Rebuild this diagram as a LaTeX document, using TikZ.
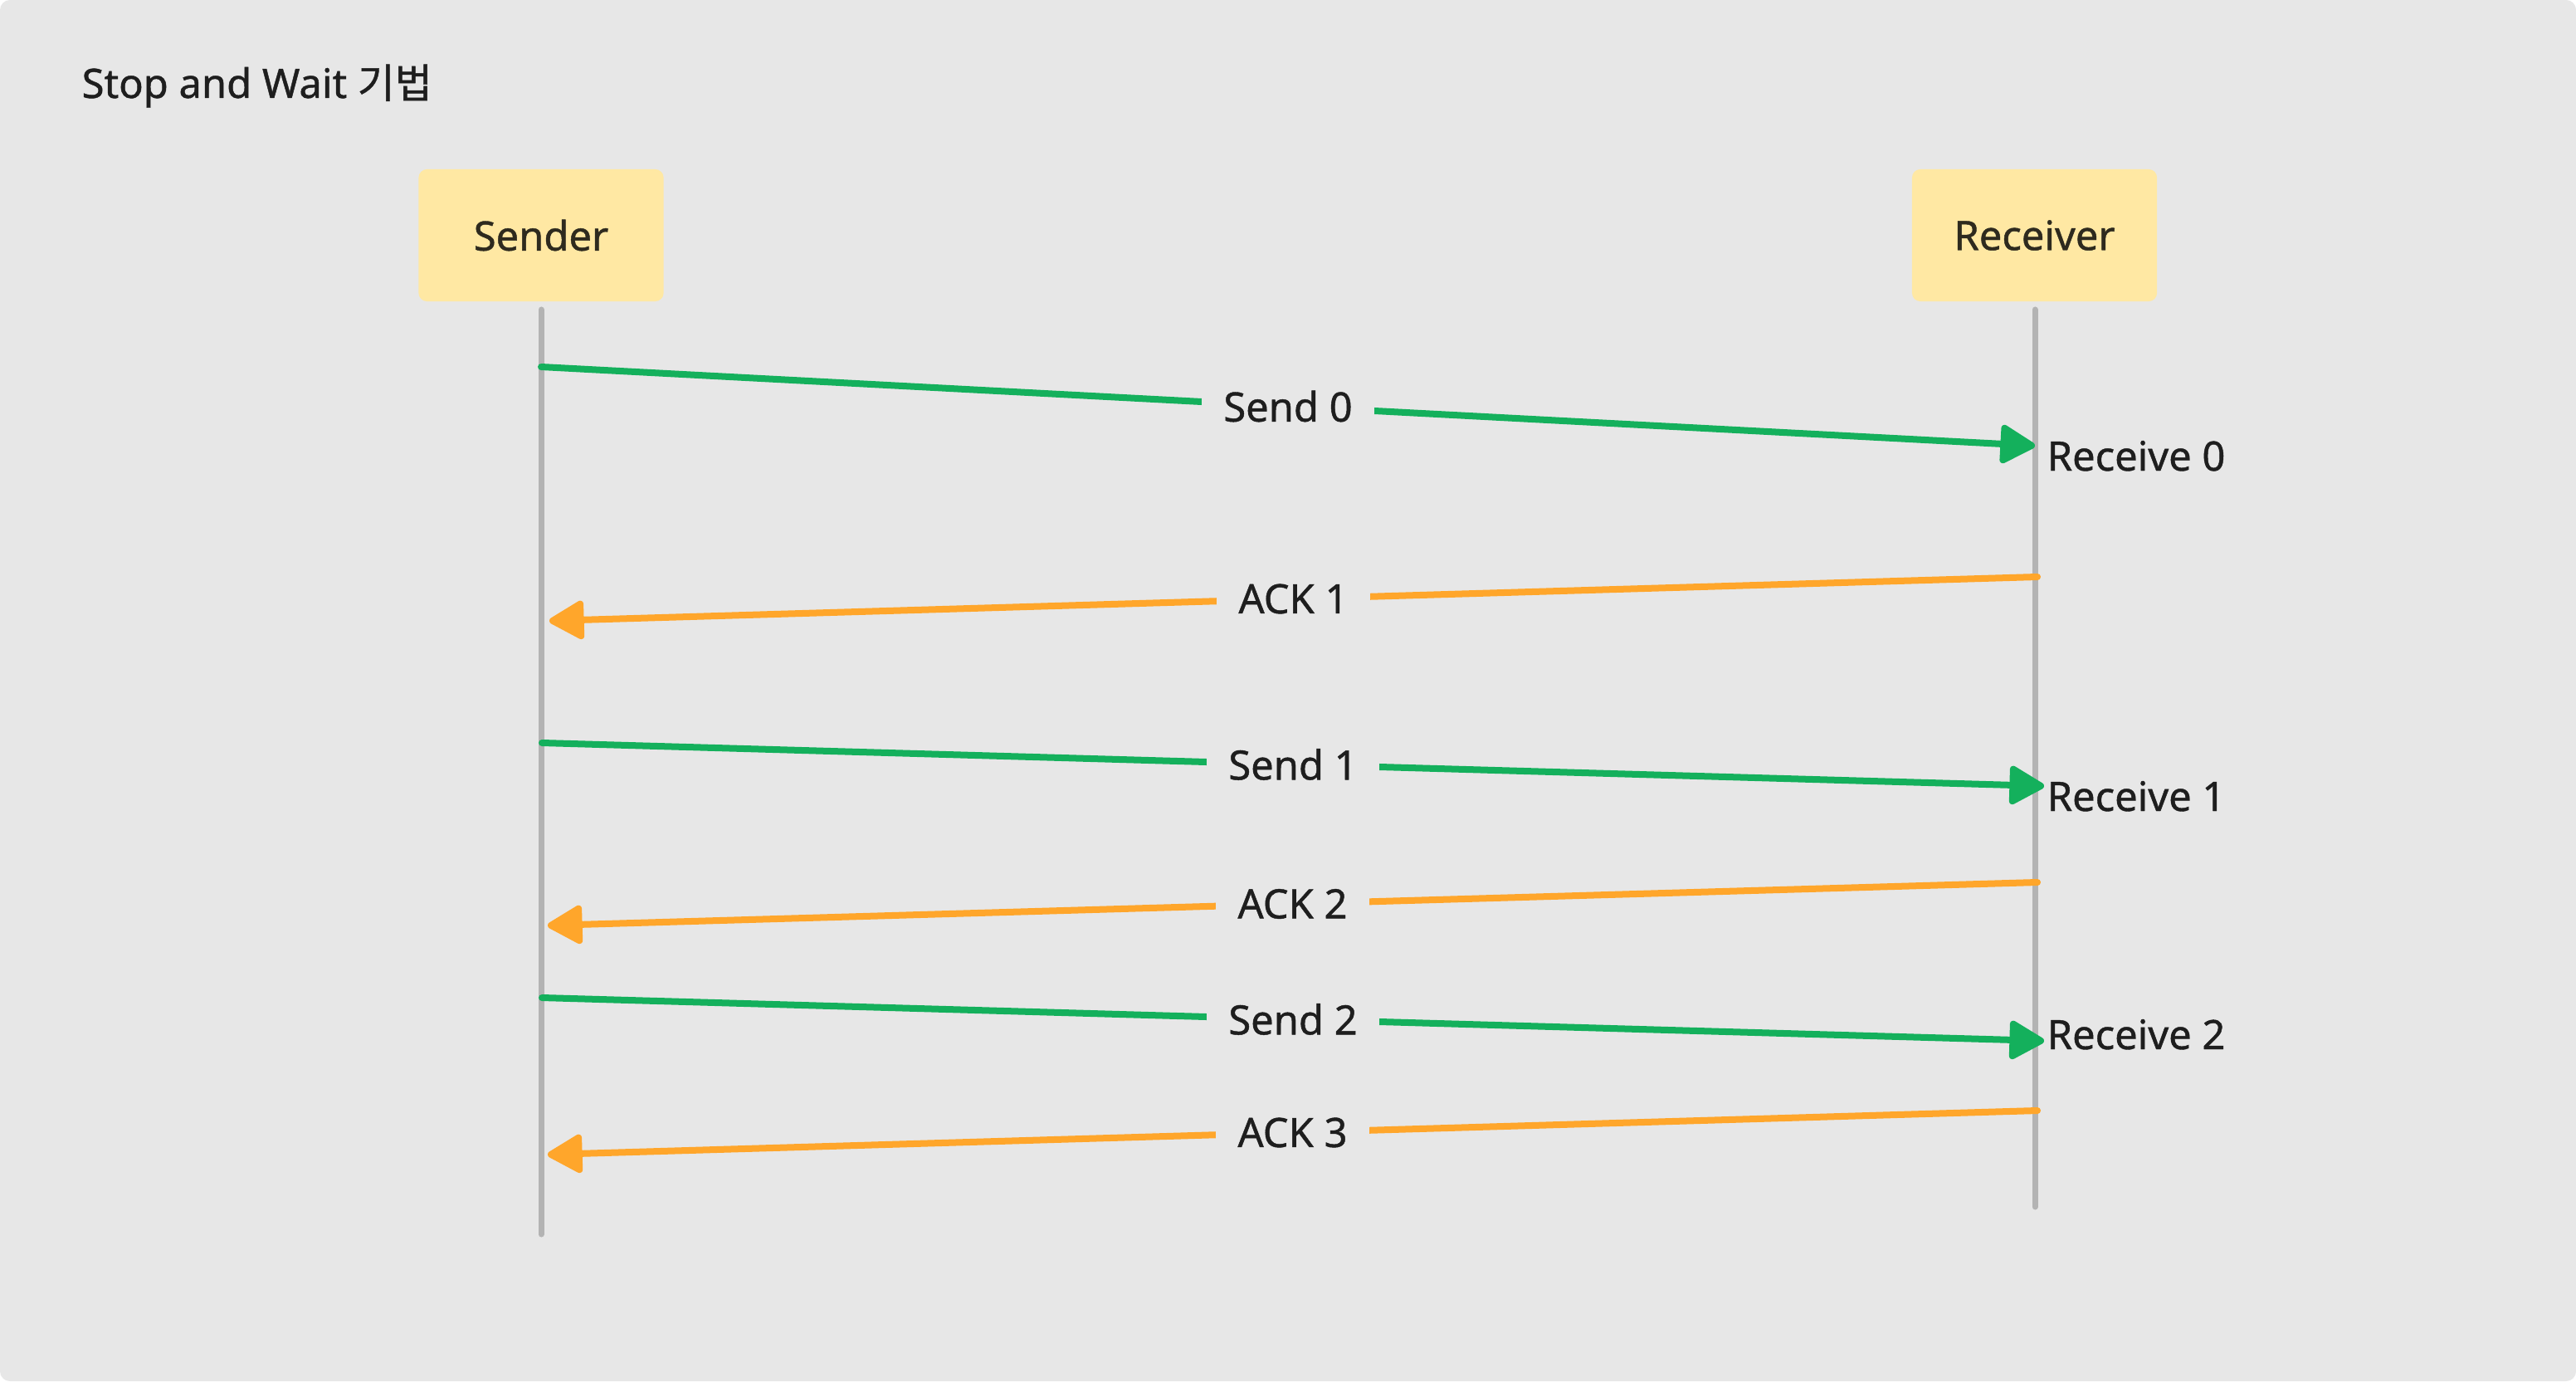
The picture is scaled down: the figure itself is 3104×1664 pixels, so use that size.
\documentclass[tikz,border=0pt]{standalone}
\usepackage{fontspec}
\setmainfont{Noto Sans}[FakeBold=0.9]
\newfontfamily\krfont{Noto Sans CJK KR}[FakeBold=0.9]
\usetikzlibrary{arrows.meta}
\definecolor{bg}{HTML}{E7E7E7}
\definecolor{boxfill}{HTML}{FFE8A3}
\definecolor{lifegray}{HTML}{B3B3B3}
\definecolor{sendgreen}{HTML}{14B05C}
\definecolor{ackorange}{HTML}{FFA62B}
\definecolor{txt}{HTML}{1E1E1E}
\definecolor{boxtxt}{HTML}{2E2A1E}
\begin{document}
\begin{tikzpicture}[x=0.01cm,y=-0.01cm,
  font=\fontsize{13.9pt}{16pt}\selectfont,
  actor/.style={fill=boxfill, rounded corners=0.1cm, minimum width=2.95cm, minimum height=1.59cm, text=boxtxt, inner sep=0pt},
  lifeline/.style={draw=lifegray, line width=0.07cm, line cap=round},
  sendmsg/.style={draw=sendgreen, line width=0.08cm, line cap=round, -{Triangle[length=0.46cm,width=0.5cm,round]}},
  ackmsg/.style={draw=ackorange, line width=0.08cm, line cap=round, -{Triangle[length=0.46cm,width=0.5cm,round]}},
  msglabel/.style={fill=bg, text=txt, inner xsep=0.26cm, inner ysep=0.06cm},
  rcvlabel/.style={anchor=base west, text=txt, inner sep=0pt}]
\useasboundingbox (0,0) rectangle (3104,1664);
\fill[white] (0,0) rectangle (3104,1664);
\fill[bg, rounded corners=0.12cm] (0,0) rectangle (3104,1664);
\node[anchor=base west, inner sep=0pt, text=txt] (title) at (98,118) {Stop and Wait {\krfont 기법}};
\node[actor] (sender) at (652,283.5) {Sender};
\node[actor] (receiver) at (2451.5,283.5) {Receiver};
\coordinate (sTop) at (652,373);
\coordinate (sBot) at (652,1487);
\coordinate (rTop) at (2452,373);
\coordinate (rBot) at (2452,1454);
\draw[lifeline] (sTop) -- (sBot);
\draw[lifeline] (rTop) -- (rBot);
% message end points
\coordinate (s0) at (652,442);
\coordinate (r0) at (2452,537);
\coordinate (a1s) at (2455,695);
\coordinate (a1e) at (662,748);
\coordinate (s1) at (653,895);
\coordinate (r1) at (2463,947);
\coordinate (a2s) at (2455,1063);
\coordinate (a2e) at (660,1115);
\coordinate (s2) at (653,1202);
\coordinate (r2) at (2463,1254);
\coordinate (a3s) at (2455,1338);
\coordinate (a3e) at (660,1391);
\draw[sendmsg] (s0) -- node[msglabel] (l0) {Send 0} (r0);
\draw[ackmsg] (a1s) -- node[msglabel] (l1) {ACK 1} (a1e);
\draw[sendmsg] (s1) -- node[msglabel] (l2) {Send 1} (r1);
\draw[ackmsg] (a2s) -- node[msglabel] (l3) {ACK 2} (a2e);
\draw[sendmsg] (s2) -- node[msglabel] (l4) {Send 2} (r2);
\draw[ackmsg] (a3s) -- node[msglabel] (l5) {ACK 3} (a3e);
\node[rcvlabel] (rc0) at (2466,567) {Receive 0};
\node[rcvlabel] (rc1) at (2466,977) {Receive 1};
\node[rcvlabel] (rc2) at (2466,1264) {Receive 2};
\end{tikzpicture}
\end{document}
